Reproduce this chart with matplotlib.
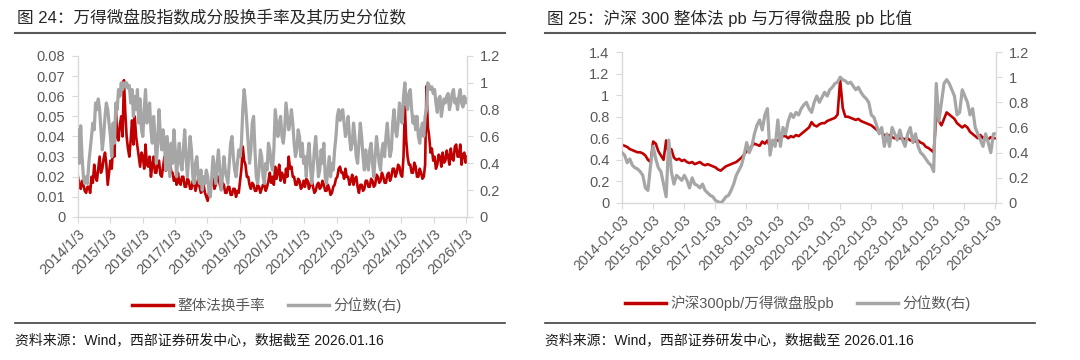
import numpy as np
import pandas as pd
import matplotlib
matplotlib.use("Agg")
import matplotlib.pyplot as plt
import matplotlib.dates as mdates
from matplotlib.lines import Line2D

plt.rcParams['font.family'] = ['Liberation Sans', 'Noto Sans CJK SC']

RED = "#c00000"
GRAY = "#a6a6a6"
TXT = "#595959"
AXC = "#d9d9d9"

# ---------------------------------------------------------------- data, fig 24
# semi-monthly readings, 2014-01-03 .. 2026-01-16
turnover = [
    0.020, 0.016, 0.014, 0.018, 0.016, 0.013, 0.012, 0.015, 0.015, 0.012, 0.020, 0.017,
    0.026, 0.020, 0.018, 0.024, 0.030, 0.022, 0.024, 0.029, 0.032, 0.026, 0.016, 0.022,  # 2014
    0.028, 0.024, 0.035, 0.030, 0.055, 0.040, 0.038, 0.046, 0.050, 0.040, 0.068, 0.052,
    0.040, 0.034, 0.030, 0.038, 0.048, 0.036, 0.050, 0.040, 0.035, 0.030, 0.025, 0.032,  # 2015
    0.030, 0.024, 0.036, 0.026, 0.025, 0.030, 0.020, 0.026, 0.030, 0.022, 0.022, 0.027,
    0.028, 0.021, 0.020, 0.025, 0.030, 0.023, 0.024, 0.028, 0.030, 0.022, 0.022, 0.018,  # 2016
    0.020, 0.016, 0.022, 0.017, 0.016, 0.020, 0.020, 0.015, 0.015, 0.019, 0.018, 0.014,
    0.014, 0.018, 0.017, 0.013, 0.016, 0.019, 0.015, 0.012, 0.013, 0.016, 0.012, 0.010,  # 2017
    0.008, 0.012, 0.014, 0.018, 0.019, 0.014, 0.016, 0.020, 0.020, 0.016, 0.014, 0.017,
    0.016, 0.012, 0.012, 0.015, 0.015, 0.011, 0.011, 0.014, 0.014, 0.010, 0.013, 0.012,  # 2018
    0.018, 0.024, 0.035, 0.028, 0.026, 0.020, 0.020, 0.016, 0.014, 0.017, 0.016, 0.013,
    0.013, 0.016, 0.015, 0.012, 0.014, 0.016, 0.016, 0.013, 0.015, 0.018, 0.022, 0.017,  # 2019
    0.020, 0.016, 0.025, 0.019, 0.022, 0.026, 0.018, 0.022, 0.020, 0.017, 0.024, 0.020,
    0.030, 0.024, 0.025, 0.020, 0.020, 0.016, 0.016, 0.019, 0.018, 0.014, 0.015, 0.018,  # 2020
    0.015, 0.019, 0.018, 0.014, 0.016, 0.019, 0.015, 0.012, 0.013, 0.016, 0.017, 0.014,
    0.015, 0.018, 0.016, 0.013, 0.013, 0.016, 0.014, 0.011, 0.012, 0.015, 0.016, 0.019,  # 2021
    0.020, 0.024, 0.025, 0.022, 0.022, 0.019, 0.024, 0.020, 0.020, 0.016, 0.018, 0.021,
    0.016, 0.019, 0.020, 0.015, 0.012, 0.016, 0.016, 0.013, 0.014, 0.018, 0.018, 0.015,  # 2022
    0.015, 0.019, 0.018, 0.015, 0.016, 0.021, 0.020, 0.017, 0.018, 0.022, 0.020, 0.017,
    0.017, 0.021, 0.022, 0.018, 0.020, 0.024, 0.024, 0.020, 0.022, 0.026, 0.025, 0.021,  # 2023
    0.020, 0.030, 0.055, 0.038, 0.030, 0.026, 0.026, 0.022, 0.022, 0.027, 0.025, 0.020,
    0.020, 0.024, 0.022, 0.019, 0.020, 0.026, 0.065, 0.045, 0.040, 0.032, 0.034, 0.028,  # 2024
    0.030, 0.024, 0.026, 0.031, 0.030, 0.025, 0.032, 0.027, 0.028, 0.033, 0.030, 0.026,
    0.034, 0.029, 0.028, 0.035, 0.036, 0.030, 0.030, 0.036, 0.026, 0.031, 0.032, 0.027,  # 2025
    0.030,
]
turnover_pct = [
    0.65, 0.40, 0.68, 0.45, 0.30, 0.25, 0.30, 0.25, 0.40, 0.50, 0.60, 0.70,
    0.65, 0.85, 0.80, 0.88, 0.80, 0.65, 0.50, 0.60, 0.75, 0.85, 0.80, 0.70,  # 2014
    0.60, 0.45, 0.70, 0.55, 0.85, 0.80, 0.95, 0.90, 1.00, 0.95, 1.00, 0.97,
    1.00, 0.96, 0.98, 0.85, 0.95, 0.75, 0.90, 0.80, 0.95, 0.70, 0.88, 0.65,  # 2015
    0.60, 0.80, 0.95, 0.70, 0.75, 0.85, 0.65, 0.55, 0.75, 0.60, 0.40, 0.55,
    0.80, 0.60, 0.50, 0.65, 0.55, 0.35, 0.60, 0.45, 0.30, 0.55, 0.40, 0.65,  # 2016
    0.50, 0.30, 0.45, 0.55, 0.40, 0.35, 0.50, 0.65, 0.45, 0.30, 0.45, 0.60,
    0.50, 0.30, 0.25, 0.40, 0.45, 0.30, 0.25, 0.35, 0.20, 0.30, 0.25, 0.35,  # 2017
    0.30, 0.18, 0.15, 0.30, 0.45, 0.35, 0.25, 0.40, 0.50, 0.35, 0.20, 0.30,
    0.45, 0.35, 0.30, 0.25, 0.40, 0.55, 0.60, 0.45, 0.35, 0.30, 0.40, 0.50,  # 2018
    0.45, 0.55, 0.80, 0.95, 0.85, 0.70, 0.55, 0.40, 0.50, 0.70, 0.75, 0.50,
    0.30, 0.25, 0.35, 0.50, 0.45, 0.30, 0.25, 0.40, 0.35, 0.55, 0.50, 0.40,  # 2019
    0.35, 0.50, 0.80, 0.70, 0.60, 0.70, 0.75, 0.60, 0.55, 0.65, 0.85, 0.75,
    0.65, 0.70, 0.80, 0.70, 0.55, 0.45, 0.50, 0.65, 0.60, 0.45, 0.55, 0.40,  # 2020
    0.45, 0.30, 0.45, 0.55, 0.40, 0.25, 0.35, 0.50, 0.60, 0.45, 0.30, 0.35,
    0.50, 0.40, 0.55, 0.30, 0.25, 0.35, 0.45, 0.30, 0.40, 0.35, 0.50, 0.60,  # 2021
    0.75, 0.80, 0.72, 0.78, 0.80, 0.70, 0.60, 0.65, 0.75, 0.60, 0.50, 0.55,
    0.70, 0.60, 0.45, 0.40, 0.55, 0.70, 0.60, 0.45, 0.35, 0.50, 0.40, 0.35,  # 2022
    0.50, 0.55, 0.40, 0.30, 0.45, 0.60, 0.50, 0.40, 0.35, 0.50, 0.55, 0.45,
    0.60, 0.70, 0.55, 0.45, 0.50, 0.70, 0.80, 0.65, 0.60, 0.70, 0.85, 0.75,  # 2023
    0.70, 0.90, 1.00, 0.85, 0.80, 0.92, 0.95, 0.80, 0.70, 0.75, 0.65, 0.75,
    0.60, 0.55, 0.65, 0.70, 0.60, 0.75, 0.80, 1.00, 0.98, 0.95, 0.97, 0.92,  # 2024
    0.95, 0.85, 0.78, 0.88, 0.90, 0.75, 0.82, 0.88, 0.85, 0.90, 0.92, 0.80,
    0.85, 0.92, 0.95, 0.85, 0.88, 0.80, 0.90, 0.95, 0.85, 0.82, 0.90, 0.85,  # 2025
    0.88,
]

# ---------------------------------------------------------------- data, fig 25
# monthly readings, 2014-01 .. 2026-01
pb_ratio = [
    0.54, 0.53, 0.52, 0.50, 0.49, 0.48, 0.47, 0.47, 0.46, 0.44, 0.40, 0.38,  # 2014
    0.57, 0.55, 0.48, 0.44, 0.40, 0.58, 0.45, 0.50, 0.42, 0.40, 0.41, 0.39,  # 2015
    0.40, 0.38, 0.37, 0.38, 0.36, 0.37, 0.38, 0.36, 0.35, 0.36, 0.35, 0.34,  # 2016
    0.33, 0.31, 0.30, 0.32, 0.34, 0.35, 0.36, 0.37, 0.38, 0.40, 0.42, 0.45,  # 2017
    0.48, 0.50, 0.53, 0.55, 0.54, 0.53, 0.57, 0.55, 0.58, 0.52, 0.57, 0.58,  # 2018
    0.58, 0.60, 0.62, 0.62, 0.60, 0.62, 0.61, 0.63, 0.62, 0.64, 0.66, 0.68,  # 2019
    0.70, 0.75, 0.72, 0.71, 0.73, 0.74, 0.74, 0.76, 0.77, 0.78, 0.79, 0.82,  # 2020
    1.14, 0.88, 0.80, 0.80, 0.79, 0.78, 0.77, 0.78, 0.76, 0.75, 0.74, 0.73,  # 2021
    0.72, 0.70, 0.68, 0.66, 0.65, 0.63, 0.62, 0.63, 0.61, 0.60, 0.60, 0.60,  # 2022
    0.60, 0.59, 0.60, 0.58, 0.58, 0.57, 0.58, 0.56, 0.55, 0.52, 0.51, 0.49,  # 2023
    0.47, 0.80, 0.76, 0.72, 0.78, 0.84, 0.82, 0.80, 0.78, 0.74, 0.72, 0.70,  # 2024
    0.72, 0.70, 0.66, 0.64, 0.62, 0.60, 0.63, 0.60, 0.62, 0.59, 0.61, 0.60,  # 2025
    0.60,
]
pb_pct = [
    0.40, 0.38, 0.32, 0.35, 0.30, 0.28, 0.27, 0.25, 0.22, 0.12, 0.10, 0.30,  # 2014
    0.45, 0.35, 0.28, 0.25, 0.15, 0.05, 0.50, 0.25, 0.15, 0.22, 0.20, 0.18,  # 2015
    0.22, 0.18, 0.12, 0.20, 0.15, 0.14, 0.12, 0.15, 0.10, 0.08, 0.06, 0.05,  # 2016
    0.02, 0.01, 0.00, 0.02, 0.05, 0.06, 0.10, 0.15, 0.22, 0.26, 0.30, 0.38,  # 2017
    0.48, 0.40, 0.45, 0.55, 0.62, 0.66, 0.58, 0.70, 0.75, 0.38, 0.50, 0.45,  # 2018
    0.66, 0.45, 0.60, 0.55, 0.65, 0.71, 0.68, 0.72, 0.70, 0.75, 0.78, 0.80,  # 2019
    0.75, 0.72, 0.80, 0.85, 0.80, 0.84, 0.88, 0.85, 0.90, 0.92, 0.95, 0.96,  # 2020
    1.00, 0.98, 0.97, 0.95, 0.96, 0.93, 0.90, 0.92, 0.88, 0.85, 0.83, 0.80,  # 2021
    0.70, 0.68, 0.62, 0.55, 0.60, 0.45, 0.55, 0.45, 0.60, 0.55, 0.50, 0.58,  # 2022
    0.50, 0.45, 0.55, 0.60, 0.48, 0.55, 0.45, 0.40, 0.38, 0.35, 0.32, 0.30,  # 2023
    0.25, 0.95, 0.65, 0.80, 0.95, 0.98, 0.95, 0.90, 0.85, 0.70, 0.72, 0.90,  # 2024
    0.85, 0.80, 0.70, 0.75, 0.60, 0.55, 0.50, 0.45, 0.55, 0.48, 0.40, 0.55,  # 2025
    0.55,
]

years = list(range(2014, 2027))
d0, d1 = "2014-01-03", "2026-01-16"
dates_l = mdates.date2num(pd.date_range(d0, d1, periods=len(turnover)).to_pydatetime())
dates_r = mdates.date2num(pd.date_range(d0, d1, periods=len(pb_ratio)).to_pydatetime())
tick_dates = [pd.Timestamp(y, 1, 3) for y in years]
tick_x = mdates.date2num([t.to_pydatetime() for t in tick_dates])
xlim = mdates.date2num([pd.Timestamp(d0).to_pydatetime(), pd.Timestamp(d1).to_pydatetime()])

W, H = 1080, 360
fig = plt.figure(figsize=(W / 100, H / 100), dpi=100)


def box(x0, y0, x1, y1):
    return [x0 / W, 1 - y1 / H, (x1 - x0) / W, (y1 - y0) / H]


def num(v):
    return format(round(v, 3), "g")


def panel(rect, x, yl, yr, lmax, lstep, xlabels, fs_x):
    ax = fig.add_axes(rect)
    ax2 = ax.twinx()
    ax.plot(x, yl, color=RED, lw=1.9, solid_joinstyle="round")
    ax2.plot(x, yr, color=GRAY, lw=2.3, solid_joinstyle="round")
    ax.set_xlim(*xlim)
    ax.set_ylim(0, lmax)
    ax2.set_ylim(0, 1.2)
    lt = np.arange(0, lmax + lstep / 2, lstep)
    ax.set_yticks(lt, [num(v) for v in lt])
    rt = np.arange(0, 1.21, 0.2)
    ax2.set_yticks(rt, [num(v) for v in rt])
    ax.set_xticks(tick_x, xlabels, rotation=45, ha="right", rotation_mode="anchor")
    for a in (ax, ax2):
        for s in a.spines.values():
            s.set_visible(False)
    ax.spines["left"].set_visible(True)
    ax.spines["bottom"].set_visible(True)
    ax2.spines["right"].set_visible(True)
    for s in (ax.spines["left"], ax.spines["bottom"], ax2.spines["right"]):
        s.set_color(AXC)
        s.set_linewidth(1.0)
    ax.tick_params(axis="y", length=4, color=AXC, labelcolor=TXT, labelsize=10.5, pad=5)
    ax2.tick_params(axis="y", length=4, color=AXC, labelcolor=TXT, labelsize=10.5, pad=5)
    ax.tick_params(axis="x", length=4, color=AXC, labelcolor=TXT, labelsize=fs_x, pad=3)
    return ax


# ------------------------------------------------------------------ left panel
lab_l = [f"{t.year}/{t.month}/{t.day}" for t in tick_dates]
panel(box(78, 56, 467, 217), dates_l, turnover, turnover_pct, 0.08, 0.01, lab_l, 10.5)

# ----------------------------------------------------------------- right panel
lab_r = [t.strftime("%Y-%m-%d") for t in tick_dates]
panel(box(622, 52, 996, 203), dates_r, pb_ratio, pb_pct, 1.4, 0.2, lab_r, 10)

# ------------------------------------------------------- titles, lines, notes
for x0, x1, title in [
    (15, 505, "图 24：万得微盘股指数成分股换手率及其历史分位数"),
    (545, 1035, "图 25：沪深 300 整体法 pb 与万得微盘股 pb 比值"),
]:
    fig.text((x0 + 2) / W, 1 - 18 / H, title, fontsize=12, color="#262626", va="center", ha="left")
    fig.add_artist(Line2D([x0 / W, x1 / W], [1 - 33 / H] * 2, color="#595959", lw=1.5))
    fig.add_artist(Line2D([x0 / W, x1 / W], [1 - 323 / H] * 2, color="#404040", lw=1.2))
    fig.text(x0 / W, 1 - 340 / H, "资料来源：Wind，西部证券研发中心，数据截至 2026.01.16",
             fontsize=10, color="#1a1a1a", va="center", ha="left")

handles = [Line2D([], [], color=RED, lw=2.5), Line2D([], [], color=GRAY, lw=2.5)]
for cx, cy, names in [
    (267, 305, ["整体法换手率", "分位数(右)"]),
    (798, 303, ["沪深300pb/万得微盘股pb", "分位数(右)"]),
]:
    fig.legend(handles, names, loc="center", bbox_to_anchor=(cx / W, 1 - cy / H), ncol=2,
               frameon=False, handlelength=2.8, handletextpad=0.3, columnspacing=1.6,
               fontsize=10.5, labelcolor=TXT)

fig.savefig("out.png", dpi=100)
